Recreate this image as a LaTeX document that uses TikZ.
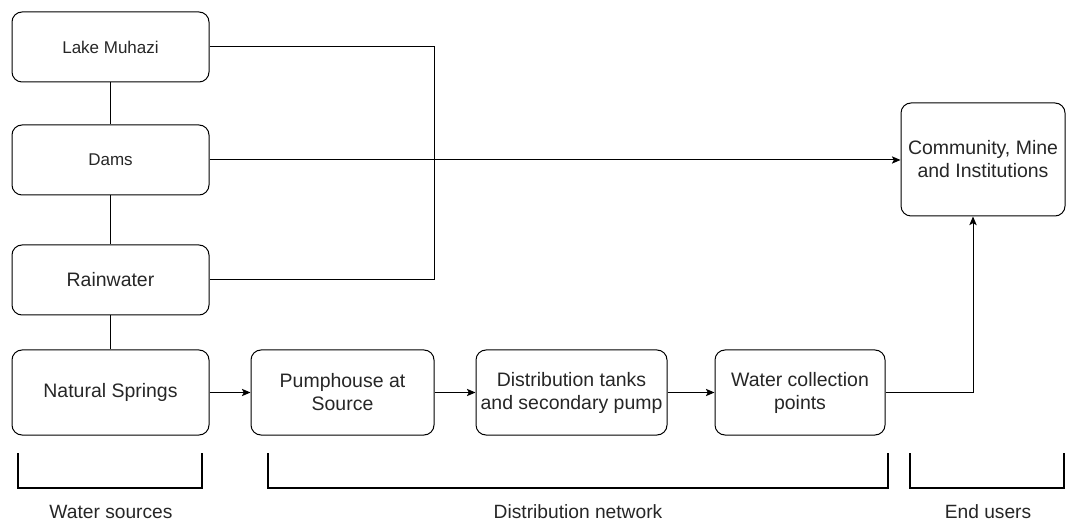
\documentclass[tikz,border=0pt]{standalone}
\usepackage{fontspec}
\setmainfont{Liberation Sans}
\usetikzlibrary{arrows.meta,calc}
\begin{document}
\begin{tikzpicture}[x=.75pt,y=-.75pt,line width=.75pt,
  box/.style 2 args={draw,rounded corners=7.5pt,align=center,inner sep=0pt,text=black!85,
    minimum width=#1*.75pt,minimum height=#2*.75pt,font=\fontsize{14.6}{17.2}\selectfont},
  small/.style={font=\fontsize{12.75}{15}\selectfont},
  arr/.style={-{Stealth[length=6.5pt,width=5.5pt,inset=1.5pt]}},
  brace/.style={line width=1.9pt},
  caption/.style={inner sep=0pt,text=black!85,font=\fontsize{14.4}{17}\selectfont}]
  \useasboundingbox (0,0) rectangle (1066,523);
  \node[box={197}{70},small] (lake) at (110.5,47) {Lake Muhazi};
  \node[box={197}{70},small] (dams) at (110.5,160) {Dams};
  \node[box={197}{70}] (rain) at (110.5,280) {Rainwater};
  \node[box={197}{85}] (springs) at (110.5,392.5) {Natural Springs};
  \node[box={183}{85}] (pump) at (342.5,392.5) {Pumphouse at\\Source};
  \node[box={191}{85}] (tanks) at (571.5,392.5) {Distribution tanks\\and secondary pump};
  \node[box={170}{85}] (collect) at (800,392.5) {Water collection\\points};
  \node[box={164}{113}] (users) at (983,159.5) {Community, Mine\\and Institutions};
  \coordinate (bend) at (434,0);
  \draw (lake) -- (dams) (dams) -- (rain) (rain) -- (springs);
  \draw (lake.east) -| (bend |- rain.east) -- (rain.east);
  \draw[arr] (dams.east) -- (dams.east -| users.west);
  \draw[arr] (springs) -- (pump);
  \draw[arr] (pump) -- (tanks);
  \draw[arr] (tanks) -- (collect);
  \draw[arr] (collect.east) -| ($(users.south)+(-10,0)$);
  \draw[brace] (18,453) |- (202,488) -- (202,453);
  \draw[brace] (268,453) |- (888,488) -- (888,453);
  \draw[brace] (910,453) |- (1064,488) -- (1064,453);
  \node[caption] (srclabel) at (111,512) {Water sources};
  \node[caption] (netlabel) at (578,512) {Distribution network};
  \node[caption] (endlabel) at (988,512) {End users};
\end{tikzpicture}
\end{document}
